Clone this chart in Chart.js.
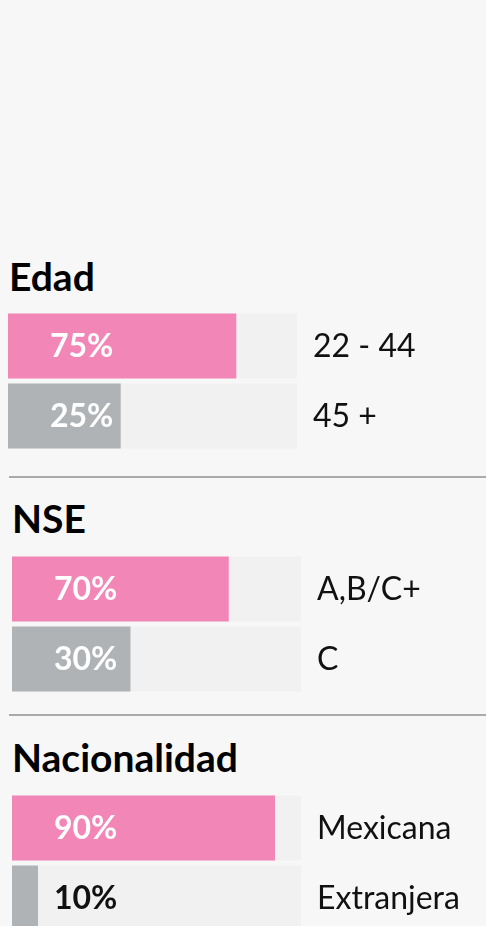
<!DOCTYPE html>
<html>
<head>
<meta charset="utf-8">
<script src="https://cdn.jsdelivr.net/npm/chart.js@4.4.1/dist/chart.umd.min.js"></script>
<style>
    html, body { margin: 0; padding: 0; background: #f7f7f7; width: 486px; height: 926px; overflow: hidden; }
    body { position: relative; font-family: Lato, 'Noto Sans', sans-serif; }
    .title { position: absolute; margin: 0; font-size: 39px; font-weight: 700; color: #000; line-height: 1; }
    .sep { position: absolute; left: 9px; right: 0; height: 2px; background: #a9a9a9; }
    .box { position: absolute; width: 478px; height: 140px; }
</style>
</head>
<body>

<h2 class="title" style="left:9px;top:257px;">Edad</h2>
<div class="box" style="left:8px;top:310.5px;"><canvas id="chartEdad"></canvas></div>
<div class="sep" style="top:476px;"></div>

<h2 class="title" style="left:12px;top:499px;">NSE</h2>
<div class="box" style="left:12px;top:553.5px;"><canvas id="chartNse"></canvas></div>
<div class="sep" style="top:714px;"></div>

<h2 class="title" style="left:12px;top:738px;">Nacionalidad</h2>
<div class="box" style="left:12px;top:792.5px;"><canvas id="chartNac"></canvas></div>

<script>
// labels and printed percentages
const edadCategories = ['22 - 44', '45 +'];
const edadPercent = [75, 25];
const nseCategories = ['A,B/C+', 'C'];
const nsePercent = [70, 30];
const nacCategories = ['Mexicana', 'Extranjera'];
const nacPercent = [90, 10];

// bar lengths as drawn in the picture (% of the track)
const edadBarLength = [79, 39];
const nseBarLength = [75, 41];
const nacBarLength = [91, 9];

const trackFull = [100, 100];
const PINK = '#f287b7';
const GREY = '#b0b3b6';
const TRACK = '#f1f1f1';

const barLabels = {
    id: 'barLabels',
    afterDatasetsDraw(chart, args, opts) {
        const ctx = chart.ctx;
        const meta = chart.getDatasetMeta(1);
        ctx.save();
        ctx.textBaseline = 'middle';
        meta.data.forEach((bar, i) => {
            const y = bar.y + 1;
            // percentage inside the bar
            const txt = opts.percent[i] + '%';
            ctx.font = '700 32px Lato, "Noto Sans", sans-serif';
            ctx.textAlign = 'left';
            const x0 = chart.chartArea.left + 42;
            const w = ctx.measureText(txt).width;
            ctx.fillStyle = (x0 + w > bar.x) ? '#111' : '#fff';
            ctx.fillText(txt, x0, y);
            // category on the right
            ctx.font = '400 32px Lato, "Noto Sans", sans-serif';
            ctx.fillStyle = '#111';
            ctx.fillText(chart.data.labels[i], chart.chartArea.right + 16, y);
        });
        ctx.restore();
    }
};

function makeChart(id, categories, lengths, percent) {
    return new Chart(document.getElementById(id), {
        type: 'bar',
        data: {
            labels: categories,
            datasets: [
                {
                    label: 'track',
                    data: trackFull,
                    backgroundColor: TRACK,
                    order: 2
                },
                {
                    label: 'valor',
                    data: lengths,
                    backgroundColor: [PINK, GREY],
                    order: 1
                }
            ]
        },
        options: {
            indexAxis: 'y',
            responsive: true,
            maintainAspectRatio: false,
            animation: false,
            grouped: false,
            categoryPercentage: 1,
            barPercentage: 0.929,
            layout: { padding: { left: 0, right: 189, top: 0, bottom: 0 } },
            plugins: {
                legend: { display: false },
                tooltip: { enabled: false },
                barLabels: { percent: percent }
            },
            scales: {
                x: { min: 0, max: 100, display: false },
                y: { display: false }
            }
        },
        plugins: [barLabels]
    });
}

makeChart('chartEdad', edadCategories, edadBarLength, edadPercent);
makeChart('chartNse', nseCategories, nseBarLength, nsePercent);
makeChart('chartNac', nacCategories, nacBarLength, nacPercent);
</script>
</body>
</html>
